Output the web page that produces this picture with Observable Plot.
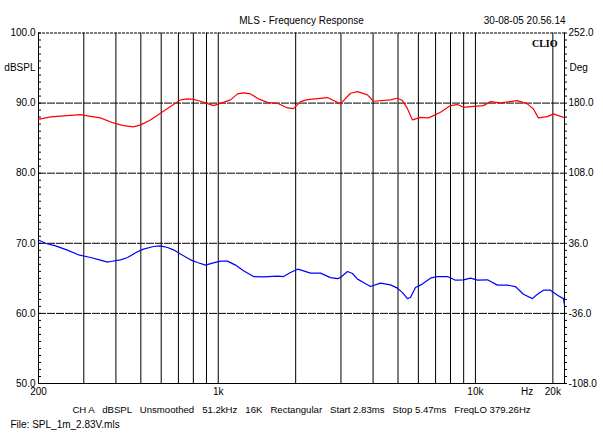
<!DOCTYPE html>
<html>
<head>
<meta charset="utf-8">
<script src="https://cdn.jsdelivr.net/npm/d3@7"></script>
<script src="https://cdn.jsdelivr.net/npm/@observablehq/plot@0.6"></script>
<style>
  html, body { margin: 0; padding: 0; background: #fff; }
  #chart svg { display: block; }
</style>
</head>
<body>
<div id="chart"></div>
<script>
// Red trace (Hz, dBSPL)
const redFreq = [200,223,259,291,310,348,391,428,468,499,545,596,652,713,759,801,853,916,958,1020,1116,1188,1254,1335,1434,1554,1700,1859,1961,2088,2223,2659,2987,3268,3479,3805,4014,4673,4975,5203,5441,5692,6114,6567,6868,7312,7997,8513,8986,9566,10749,11443,12514,14564,15925,16806,17575,19057,20107,21992];
const redDb = [87.69,88.03,88.21,88.36,88.17,87.89,87.17,86.79,86.6,86.89,87.6,88.54,89.5,90.46,90.6,90.54,90.26,89.89,89.64,89.97,90.46,91.31,91.46,91.31,90.6,90.11,89.97,89.31,89.21,90.21,90.5,90.79,89.89,91.4,91.64,91.17,90.26,90.46,90.69,90.36,89.21,87.6,87.97,87.89,88.21,88.69,89.64,89.79,89.4,89.5,89.64,90.21,90.03,90.36,89.89,89.17,87.89,88.07,88.46,87.97];
// Blue trace (Hz, dBSPL)
const blueFreq = [200,214,233,259,286,319,348,371,381,417,444,485,512,560,596,635,670,713,780,830,892,950,1020,1086,1167,1254,1371,1499,1700,1794,1909,2033,2146,2284,2497,2731,2908,2987,3180,3327,3479,3670,3908,4273,4673,4975,5203,5441,5590,5847,6114,6686,7118,7785,8362,8986,9566,10186,11140,12182,13319,14305,15366,16656,17418,18383,19575,20840,21992,22200];
const blueDb = [70.46,69.97,69.64,69.03,68.36,67.97,67.6,67.31,67.4,67.64,67.97,68.79,69.17,69.54,69.64,69.4,69.07,68.46,67.64,67.26,66.89,67.17,67.46,67.46,66.89,66.07,65.26,65.21,65.31,65.26,65.83,66.31,66.07,65.74,65.74,65.11,64.97,65.11,65.97,65.69,64.89,64.4,63.83,64.31,64.07,63.6,62.97,62.11,62.26,63.69,64.03,65.03,65.26,65.26,64.74,64.79,65.03,64.74,64.79,64.03,64.03,63.83,62.74,62.11,62.74,63.31,63.31,62.6,62.11,61.2];

// Axes
const xDomain = [200, 22200];
const xGrid = [300,400,500,600,700,800,900,1000,2000,3000,4000,5000,6000,7000,8000,9000,10000,20000];
const xLabelVals = [200, 1000, 10000, 15900, 20000];
const xLabelText = ["200", "1k", "10k", "Hz", "20k"];
const dbDomain = [50, 100];
const dbGrid = [60, 70, 80, 90];
const dbLabels = [100, 90, 80, 70, 60, 50];
const dbMinor = d3.range(50, 101, 1);
const degDomain = [-108, 252];
const degLabels = [252, 180, 108, 36, -36, -108];
const degMinor = d3.range(-108, 253, 7.2);

const title = "MLS - Frequency Response";
const stamp = "30-08-05 20.56.14";
const brand = "CLIO";
const footer = "CH A   dBSPL   Unsmoothed   51.2kHz   16K   Rectangular   Start 2.83ms   Stop 5.47ms   FreqLO 379.26Hz";
const fileLine = "File: SPL_1m_2.83V.mls";

const red = redFreq.map((f, i) => ({f, v: redDb[i]}));
const blue = blueFreq.map((f, i) => ({f, v: blueDb[i]}));
const deg2db = d => dbDomain[0] + (d - degDomain[0]) / (degDomain[1] - degDomain[0]) * (dbDomain[1] - dbDomain[0]);

const W = 603, H = 435, mL = 38, mR = 39, mT = 32.5, mB = 52;
const FW = W - mL - mR;
const font = "Liberation Sans, Arial, sans-serif";

const chart = Plot.plot({
  width: W, height: H,
  marginLeft: mL, marginRight: mR, marginTop: mT, marginBottom: mB,
  style: {fontFamily: font, fontSize: "10px", background: "#fff", overflow: "visible"},
  x: {type: "log", domain: xDomain, axis: null},
  y: {domain: dbDomain, axis: null},
  marks: [
    Plot.ruleX(xGrid, {x: d => d, stroke: "#000", strokeWidth: 1}),
    Plot.ruleY(dbGrid, {y: d => d, stroke: "#000", strokeWidth: 1, strokeDasharray: "8,1"}),
    Plot.ruleY([100], {y: d => d, stroke: "#000", strokeWidth: 1, strokeDasharray: "3,1"}),
    Plot.ruleY([50], {y: d => d, stroke: "#000", strokeWidth: 1}),
    Plot.ruleX(xDomain, {x: d => d, stroke: "#000", strokeWidth: 1}),
    // left minor ticks (inside)
    Plot.ruleY(dbMinor, {y: d => d, stroke: "#000", strokeWidth: 1, insetRight: FW - 3}),
    // right minor ticks (outside)
    Plot.ruleY(degMinor, {y: d => deg2db(d), stroke: "#000", strokeWidth: 1, insetLeft: FW, insetRight: -3}),
    Plot.line(red, {x: "f", y: "v", stroke: "#ff0000", strokeWidth: 1.2}),
    Plot.line(blue, {x: "f", y: "v", stroke: "#0000ff", strokeWidth: 1.2}),
    // left labels
    Plot.text(dbLabels, {y: d => d, text: d => d.toFixed(1), frameAnchor: "left", textAnchor: "end", dx: -3, fill: "#000"}),
    Plot.text(["dBSPL"], {y: [95], text: d => d, frameAnchor: "left", textAnchor: "end", dx: -3, fill: "#000"}),
    // right labels
    Plot.text(degLabels, {y: d => deg2db(d), text: d => d.toFixed(1), frameAnchor: "right", textAnchor: "start", dx: 4, fill: "#000"}),
    Plot.text(["Deg"], {y: [deg2db(216)], text: d => d, frameAnchor: "right", textAnchor: "start", dx: 5, fill: "#000"}),
    // bottom labels
    Plot.text(xLabelVals, {x: d => d, text: (d, i) => xLabelText[i], frameAnchor: "bottom", dy: 11.5, fill: "#000"}),
    // header
    Plot.text([title], {text: d => d, frameAnchor: "top", dy: -16, fill: "#000"}),
    Plot.text([stamp], {text: d => d, frameAnchor: "top-right", textAnchor: "end", dx: 1, dy: -16, fill: "#000"}),
    Plot.text([brand], {text: d => d, frameAnchor: "top-right", textAnchor: "end", dx: -7, dy: 7, fill: "#000",
      fontFamily: "Liberation Serif, serif", fontWeight: "bold", fontSize: 10}),
    // footer
    Plot.text([footer], {text: d => d, frameAnchor: "bottom", dy: 29.5, fill: "#000", fontSize: 9.6}),
    Plot.text([fileLine], {text: d => d, frameAnchor: "bottom-left", textAnchor: "start", dx: -28, dy: 44.5, fill: "#000"})
  ]
});
document.getElementById("chart").appendChild(chart);
</script>
</body>
</html>
